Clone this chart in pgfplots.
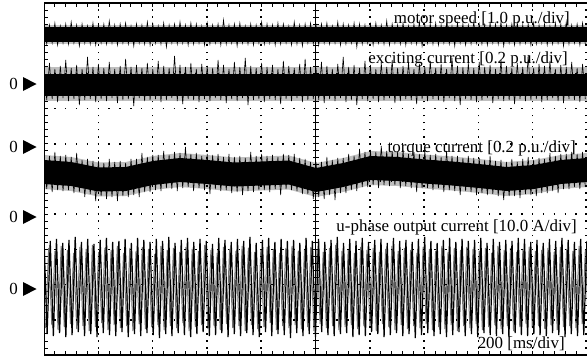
\documentclass[border=0pt]{standalone}
\usepackage{pgfplots}
\usepackage{pgfplotstable}
\pgfplotsset{compat=1.18}
\usepackage{fontspec}
\setmainfont{Liberation Serif}

% motor speed trace (min/max envelope samples, px rows from top)
\pgfplotstableread[row sep=\\,header=false]{
24\\44\\25\\43\\23\\45\\26\\43\\24\\44\\22\\43\\25\\46\\24\\43\\26\\44\\23\\45\\
25\\43\\24\\44\\21\\43\\25\\45\\24\\43\\23\\44\\26\\46\\24\\43\\25\\44\\22\\45\\
24\\43\\26\\44\\23\\47\\25\\43\\24\\44\\22\\43\\25\\45\\23\\44\\24\\43\\26\\45\\
23\\44\\25\\43\\24\\45\\20\\44\\25\\43\\24\\46\\23\\43\\26\\44\\24\\45\\25\\43\\
22\\44\\24\\43\\25\\45\\23\\44\\24\\43\\26\\45\\22\\44\\25\\46\\24\\43\\23\\44\\
25\\45\\24\\43\\23\\44\\26\\43\\22\\45\\24\\44\\25\\43\\23\\47\\24\\44\\25\\43\\
24\\45\\23\\43\\25\\44\\21\\45\\24\\43\\25\\44\\23\\45\\26\\43\\24\\44\\22\\46\\
25\\43\\24\\44\\23\\45\\25\\43\\24\\44\\26\\46\\23\\43\\24\\45\\25\\44\\22\\43\\
24\\44\\25\\45\\23\\43\\24\\44\\22\\46\\25\\43\\24\\45\\23\\44\\25\\43\\24\\45\\
23\\44\\25\\43\\24\\45\\26\\44\\23\\43\\24\\46\\22\\44\\25\\43\\24\\45\\23\\44\\
}\speedtab

% exciting current trace
\pgfplotstableread[row sep=\\,header=false]{
67\\100\\63\\99\\69\\102\\66\\98\\60\\101\\68\\99\\65\\105\\69\\100\\57\\99\\67\\102\\
64\\99\\68\\101\\62\\98\\69\\103\\66\\100\\59\\99\\67\\106\\65\\98\\68\\101\\63\\100\\
69\\99\\61\\102\\66\\100\\68\\98\\56\\101\\65\\104\\67\\99\\63\\100\\69\\102\\64\\99\\
66\\101\\68\\98\\60\\100\\65\\103\\69\\99\\62\\101\\67\\98\\58\\105\\66\\100\\68\\99\\
63\\102\\67\\99\\65\\100\\69\\104\\61\\99\\66\\101\\68\\98\\64\\102\\59\\100\\67\\99\\
68\\100\\62\\103\\66\\99\\69\\101\\64\\98\\57\\102\\67\\100\\65\\105\\68\\99\\61\\101\\
65\\99\\69\\102\\63\\100\\67\\98\\60\\103\\68\\101\\66\\99\\62\\100\\69\\104\\64\\99\\
67\\101\\61\\99\\68\\100\\64\\102\\69\\98\\58\\101\\66\\105\\67\\99\\63\\100\\68\\102\\
62\\100\\67\\98\\65\\103\\69\\99\\60\\101\\66\\100\\68\\104\\63\\99\\67\\101\\55\\100\\
68\\99\\64\\102\\66\\100\\61\\98\\69\\101\\65\\103\\67\\99\\62\\100\\68\\102\\64\\99\\
}\excitetab

% torque current trace
\pgfplotstableread[row sep=\\,header=false]{
154\\189\\156\\192\\152\\190\\156\\191\\155\\190\\157\\193\\153\\192\\160\\197\\159\\194\\161\\201\\
161\\196\\163\\199\\159\\197\\162\\201\\161\\196\\163\\197\\159\\195\\159\\197\\153\\192\\157\\192\\
155\\190\\155\\191\\151\\188\\155\\189\\152\\191\\153\\188\\147\\187\\154\\191\\153\\188\\156\\190\\
154\\194\\155\\189\\154\\191\\157\\190\\154\\193\\157\\192\\156\\195\\158\\191\\152\\192\\156\\190\\
154\\190\\156\\192\\155\\189\\157\\195\\154\\189\\155\\190\\154\\191\\158\\194\\159\\194\\162\\199\\
162\\197\\162\\199\\157\\195\\160\\200\\158\\193\\158\\193\\154\\190\\156\\191\\149\\187\\152\\187\\
150\\185\\152\\188\\146\\185\\151\\186\\151\\185\\152\\188\\150\\186\\154\\188\\152\\192\\154\\188\\
151\\188\\155\\190\\154\\188\\157\\192\\151\\190\\156\\191\\156\\195\\158\\191\\156\\192\\158\\195\\
158\\193\\160\\195\\156\\194\\161\\196\\160\\200\\162\\196\\159\\196\\162\\198\\159\\194\\157\\195\\
160\\196\\158\\193\\159\\193\\153\\191\\156\\193\\154\\189\\154\\189\\152\\187\\154\\189\\152\\187\\
}\torquetab

% u-phase output current, two interleaved sample traces
\pgfplotstableread[row sep=\\,header=false]{
238\\334\\241\\336\\239\\333\\243\\337\\240\\335\\237\\332\\242\\336\\239\\334\\244\\337\\240\\333\\
238\\335\\242\\336\\241\\332\\239\\337\\243\\334\\238\\336\\240\\333\\242\\335\\239\\338\\241\\334\\
237\\336\\243\\333\\240\\335\\238\\337\\242\\334\\239\\332\\241\\336\\244\\335\\238\\333\\240\\337\\
242\\334\\239\\336\\241\\333\\237\\335\\243\\337\\240\\332\\238\\336\\242\\334\\239\\335\\241\\338\\
240\\333\\243\\336\\238\\334\\241\\337\\239\\332\\242\\335\\240\\336\\237\\334\\243\\333\\239\\337\\
241\\335\\238\\336\\242\\332\\240\\334\\239\\337\\243\\335\\238\\333\\241\\336\\240\\334\\242\\338\\
239\\335\\237\\333\\241\\336\\243\\334\\240\\337\\238\\335\\242\\332\\239\\336\\241\\334\\240\\337\\
238\\333\\243\\335\\239\\336\\242\\334\\240\\337\\241\\333\\238\\335\\239\\336\\242\\334\\240\\335\\
243\\336\\239\\333\\241\\335\\238\\337\\240\\334\\242\\336\\239\\335\\241\\
}\ublacktab

\pgfplotstableread[row sep=\\,header=false]{
328\\248\\325\\251\\330\\246\\327\\250\\324\\253\\329\\247\\326\\249\\331\\245\\327\\252\\323\\248\\
330\\250\\325\\246\\328\\253\\326\\248\\331\\251\\324\\247\\329\\249\\327\\254\\325\\246\\330\\250\\
326\\248\\328\\252\\323\\247\\331\\249\\327\\251\\325\\245\\329\\250\\326\\253\\330\\247\\324\\249\\
328\\251\\326\\246\\331\\248\\325\\252\\329\\250\\327\\247\\323\\249\\330\\253\\326\\248\\328\\246\\
325\\251\\329\\249\\327\\247\\331\\250\\324\\252\\328\\248\\326\\245\\330\\251\\327\\249\\325\\253\\
329\\247\\326\\250\\328\\248\\331\\252\\324\\249\\327\\246\\330\\251\\325\\248\\329\\250\\326\\253\\
328\\247\\324\\249\\330\\251\\327\\246\\329\\252\\325\\248\\331\\250\\326\\247\\328\\249\\324\\251\\
330\\248\\327\\253\\325\\246\\329\\250\\326\\248\\331\\252\\327\\249\\324\\247\\328\\251\\326\\250\\
329\\248\\325\\252\\330\\247\\327\\249\\326\\251\\328\\246\\324\\250\\329\\
}\ugraytab

\tikzset{
  vdots/.style={line width=1.5bp, dash pattern=on 1.5bp off 5.54bp, dash phase=0.75bp},
  hdots/.style={line width=1.5bp, dash pattern=on 1.5bp off 9.36bp, dash phase=0.75bp},
}

\begin{document}
\begin{tikzpicture}[x=1bp,y=1bp]
\useasboundingbox (0,0) rectangle (587,358);
\begin{axis}[
  at={(44bp,3bp)}, anchor=south west,
  width=543bp, height=352bp, scale only axis,
  xmin=0, xmax=543, ymin=3, ymax=355, y dir=reverse,
  axis line style={draw=none},
  xtick={0,10.86,...,543.5}, ytick={3,10.04,...,355.5},
  xtick pos=both, ytick pos=left, tick align=inside,
  major tick length=4bp,
  tick style={black, line width=0.8bp},
  xticklabel=\empty, yticklabel=\empty,
  clip=true,
]
% motor speed
\addplot[fill=gray!45, draw=none] coordinates {(0,25) (543,25) (543,44) (0,44)};
\addplot[fill=black, draw=none] coordinates {(0,27) (543,27) (543,42) (0,42)};
\addplot[black, line width=0.6bp] table[x expr=\coordindex*2.72, y index=0] {\speedtab};
% exciting current
\addplot[fill=gray!50, draw=none] coordinates {(0,67) (543,67) (543,101) (0,101)};
\addplot[fill=black, draw=none] coordinates {(0,74) (543,74) (543,96) (0,96)};
\addplot[black, line width=0.6bp] table[x expr=\coordindex*2.72, y index=0] {\excitetab};
% torque current
\addplot[fill=gray!50, draw=none] coordinates {
(0,155) (27.2,157) (54.4,162.5) (81.6,162) (108.8,156) (136,153) (163.2,155) (190.4,157.5)
(217.6,156.5) (244.8,155.5) (272,163) (299.2,158) (326.4,151) (353.6,152) (380.8,154.5)
(408,156.5) (435.2,159) (462.4,162) (489.6,160) (516.8,155) (543,153)
(543,187) (516.8,189) (489.6,194) (462.4,196) (435.2,193) (408,190.5) (380.8,188.5)
(353.6,186) (326.4,185) (299.2,192) (272,197) (244.8,189.5) (217.6,190.5) (190.4,191.5)
(163.2,189) (136,187) (108.8,190) (81.6,196) (54.4,196.5) (27.2,191) (0,189)};
\addplot[fill=black, draw=none] coordinates {
(0,160) (27.2,162) (54.4,167.5) (81.6,167) (108.8,161) (136,158) (163.2,160) (190.4,162.5)
(217.6,161.5) (244.8,160.5) (272,168) (299.2,163) (326.4,156) (353.6,157) (380.8,159.5)
(408,161.5) (435.2,164) (462.4,167) (489.6,165) (516.8,160) (543,158)
(543,182) (516.8,184) (489.6,189) (462.4,191) (435.2,188) (408,185.5) (380.8,183.5)
(353.6,181) (326.4,180) (299.2,187) (272,192) (244.8,184.5) (217.6,185.5) (190.4,186.5)
(163.2,184) (136,182) (108.8,185) (81.6,191) (54.4,191.5) (27.2,186) (0,184)};
\addplot[black, line width=0.6bp] table[x expr=\coordindex*2.72, y index=0] {\torquetab};
% u-phase output current
\addplot[black!55, line width=1.0bp] table[x expr=1.56+\coordindex*3.12, y index=0] {\ugraytab};
\addplot[black, line width=1.2bp] table[x expr=\coordindex*3.12, y index=0] {\ublacktab};

% dotted grid
\pgfplotsinvokeforeach{54.3,108.6,162.9,217.2,325.8,380.1,434.4,488.7}{
  \draw[vdots] (axis cs:#1,355) -- (axis cs:#1,3);
}
\pgfplotsinvokeforeach{38.2,73.4,108.6,143.8,214.2,249.4,284.6,319.8}{
  \draw[hdots] (axis cs:0,#1) -- (axis cs:543,#1);
}
\draw[vdots] (axis cs:541.8,355) -- (axis cs:541.8,3);
% centre cross with ticks
\draw[line width=0.9bp] (axis cs:271.5,355) -- (axis cs:271.5,3);
\draw[line width=6bp, dash pattern=on 0.9bp off 6.14bp, dash phase=0.45bp] (axis cs:271.5,355) -- (axis cs:271.5,3);
\draw[line width=0.9bp] (axis cs:0,179) -- (axis cs:543,179);
\draw[line width=6bp, dash pattern=on 0.9bp off 9.96bp, dash phase=0.45bp] (axis cs:0,179) -- (axis cs:543,179);
% frame
\draw[line width=1.4bp] (axis cs:543,355) -- (axis cs:0,355) -- (axis cs:0,3) -- (axis cs:543,3);
\end{axis}

% channel labels
\begin{scope}[every node/.style={inner sep=0pt, anchor=base east, font=\fontsize{17}{20}\selectfont}]
\node at (570,335) {motor speed [1.0 p.u./div]};
\node at (568,295) {exciting current [0.2 p.u./div]};
\node at (576,206) {torque current [0.2 p.u./div]};
\node at (577,127) {u-phase output current [10.0 A/div]};
\node at (565,10) {200 [ms/div]};
\end{scope}

% zero markers
\foreach \yy in {274,211,141,69}{
  \node[inner sep=0pt, font=\fontsize{17}{20}\selectfont] at (13.5,\yy) {0};
  \fill (23,\yy+7) -- (36.5,\yy) -- (23,\yy-7) -- cycle;
}
\end{tikzpicture}
\end{document}
